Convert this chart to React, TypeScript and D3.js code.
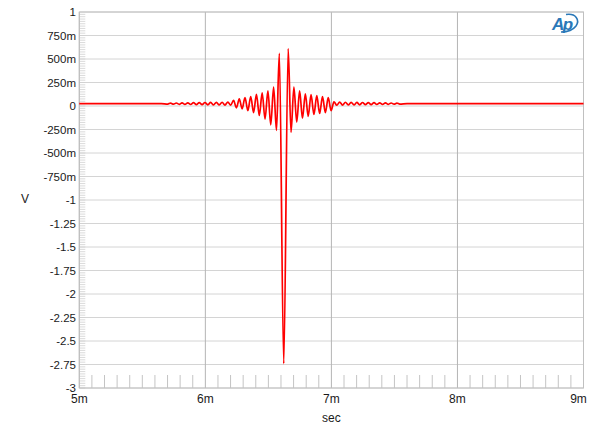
import React from "react";
import * as d3 from "d3";

const xTicks = [5, 6, 7, 8, 9];
const xTickLabels = ["5m", "6m", "7m", "8m", "9m"];
const yTicks = [1, 0.75, 0.5, 0.25, 0, -0.25, -0.5, -0.75, -1, -1.25, -1.5, -1.75, -2, -2.25, -2.5, -2.75, -3];
const yTickLabels = ["1", "750m", "500m", "250m", "0", "-250m", "-500m", "-750m", "-1", "-1.25", "-1.5", "-1.75", "-2", "-2.25", "-2.5", "-2.75", "-3"];

// impulse centre
const centerTime = 6.622;
const centerVolt = -2.74;
const baselineVolt = 0.025;

// extrema of the ringing, left of centre (nearest first), ms
const leftTimes = [6.587, 6.5643, 6.5416, 6.5189, 6.4962, 6.4735, 6.4508, 6.4281, 6.4054, 6.3827,
  6.36, 6.3373, 6.3146, 6.2919, 6.2692, 6.2465, 6.2238, 6.2011, 6.1784, 6.1557,
  6.133, 6.1103, 6.0876, 6.0649, 6.0422, 6.0195, 5.9968, 5.9741, 5.9514, 5.9287,
  5.906, 5.8833, 5.8606, 5.8379, 5.8152, 5.7925, 5.7698, 5.7471, 5.7244, 5.7017];
const leftVolts = [0.56, -0.26, 0.2, -0.2, 0.16, -0.14, 0.14, -0.1, 0.125, -0.07,
  0.1, -0.05, 0.09, -0.03, 0.075, -0.02, 0.06, 0.008, 0.042, 0.01,
  0.04, 0.011, 0.039, 0.012, 0.038, 0.013, 0.037, 0.014, 0.036, 0.015,
  0.035, 0.016, 0.034, 0.017, 0.033, 0.018, 0.032, 0.019, 0.031, 0.02];

// extrema of the ringing, right of centre (nearest first), ms
const rightTimes = [6.657, 6.6797, 6.7024, 6.7251, 6.7478, 6.7705, 6.7932, 6.8159, 6.8386, 6.8613,
  6.884, 6.9067, 6.9294, 6.9521, 6.9748, 6.9975, 7.0202, 7.0429, 7.0656, 7.0883,
  7.111, 7.1337, 7.1564, 7.1791, 7.2018, 7.2245, 7.2472, 7.2699, 7.2926, 7.3153,
  7.338, 7.3607, 7.3834, 7.4061, 7.4288, 7.4515, 7.4742, 7.4969, 7.5196, 7.5423];
const rightVolts = [0.61, -0.28, 0.2, -0.17, 0.16, -0.13, 0.13, -0.11, 0.12, -0.09,
  0.11, -0.08, 0.1, -0.07, 0.09, -0.05, 0.045, 0.008, 0.042, 0.01,
  0.04, 0.011, 0.039, 0.012, 0.038, 0.013, 0.037, 0.014, 0.036, 0.015,
  0.035, 0.016, 0.034, 0.017, 0.033, 0.018, 0.032, 0.019, 0.031, 0.02];

const flatStartTimes = [5.0, 5.65];
const flatEndTimes = [7.6, 9.0];

const W = 600, H = 436;
const L = 79.3, R = 583.5, T = 12, B = 388;

export default function App() {
  const x = d3.scaleLinear().domain([5, 9]).range([L, R]);
  const y = d3.scaleLinear().domain([-3, 1]).range([B, T]);

  const pts: [number, number][] = [];
  flatStartTimes.forEach((t) => pts.push([t, baselineVolt]));
  for (let i = leftTimes.length - 1; i >= 0; i--) pts.push([leftTimes[i], leftVolts[i]]);
  pts.push([centerTime, centerVolt]);
  for (let i = 0; i < rightTimes.length; i++) pts.push([rightTimes[i], rightVolts[i]]);
  flatEndTimes.forEach((t) => pts.push([t, baselineVolt]));

  const line = d3.line<[number, number]>()
    .x((d) => x(d[0]))
    .y((d) => y(d[1]))
    .curve(d3.curveMonotoneX);

  const minorX = d3.range(50, 90).map((i) => i / 10).filter((v) => Math.abs(v - Math.round(v)) > 1e-6);
  const minorY = d3.range(-120, 40).map((i) => i / 40);

  const font = "'Liberation Sans', Arial, sans-serif";

  return (
    <svg width={W} height={H} style={{ position: "absolute", left: 0, top: 0, background: "#fff" }}>
      {/* horizontal grid */}
      {yTicks.map((v) => (
        <line key={"hg" + v} x1={L} x2={R} y1={y(v)} y2={y(v)} stroke="#d4d4d4" strokeWidth={1} />
      ))}
      {/* left minor ticks */}
      {minorY.map((v, i) => (
        <line key={"my" + i} x1={L} x2={L + 6} y1={y(v)} y2={y(v)} stroke="#d0d0d0" strokeWidth={0.8} />
      ))}
      {/* bottom minor ticks */}
      {minorX.map((v, i) => (
        <line key={"mx" + i} x1={x(v)} x2={x(v)} y1={B - 13} y2={B} stroke="#c4c4c4" strokeWidth={1} />
      ))}
      {/* vertical grid */}
      {xTicks.map((v) => (
        <line key={"vg" + v} x1={x(v)} x2={x(v)} y1={T} y2={B} stroke="#b4b4b4" strokeWidth={1} />
      ))}
      <rect x={L} y={T} width={R - L} height={B - T} fill="none" stroke="#c0c0c0" strokeWidth={1} />

      <path d={line(pts) || ""} fill="none" stroke="#ff0000" strokeWidth={1.7} strokeLinejoin="round" />

      {/* y labels */}
      {yTicks.map((v, i) => (
        <text key={"yl" + v} x={76} y={y(v)} dy="0.35em" textAnchor="end" fontFamily={font} fontSize={11.5} fill="#1a1a1a">
          {yTickLabels[i]}
        </text>
      ))}
      {/* x labels */}
      {xTicks.map((v, i) => (
        <text key={"xl" + v} x={i === xTicks.length - 1 ? x(v) - 5 : x(v)} y={403} textAnchor="middle" fontFamily={font} fontSize={12} fill="#1a1a1a">
          {xTickLabels[i]}
        </text>
      ))}
      <text x={(L + R) / 2} y={422} textAnchor="middle" fontFamily={font} fontSize={12} fill="#1a1a1a">sec</text>
      <text x={25} y={199} dy="0.35em" textAnchor="middle" fontFamily={font} fontSize={12} fill="#1a1a1a">V</text>

      {/* AP logo */}
      <g>
        <text x={552} y={30} fontFamily={font} fontSize={17} fontStyle="italic" fontWeight="bold" fill="#2a78b8" letterSpacing={-1.5}>Ap</text>
        <path d="M566,14.5 C576,13 580,20 576,26 C573,30 567,32 561,32" fill="none" stroke="#2a78b8" strokeWidth={1.6} />
      </g>
    </svg>
  );
}
